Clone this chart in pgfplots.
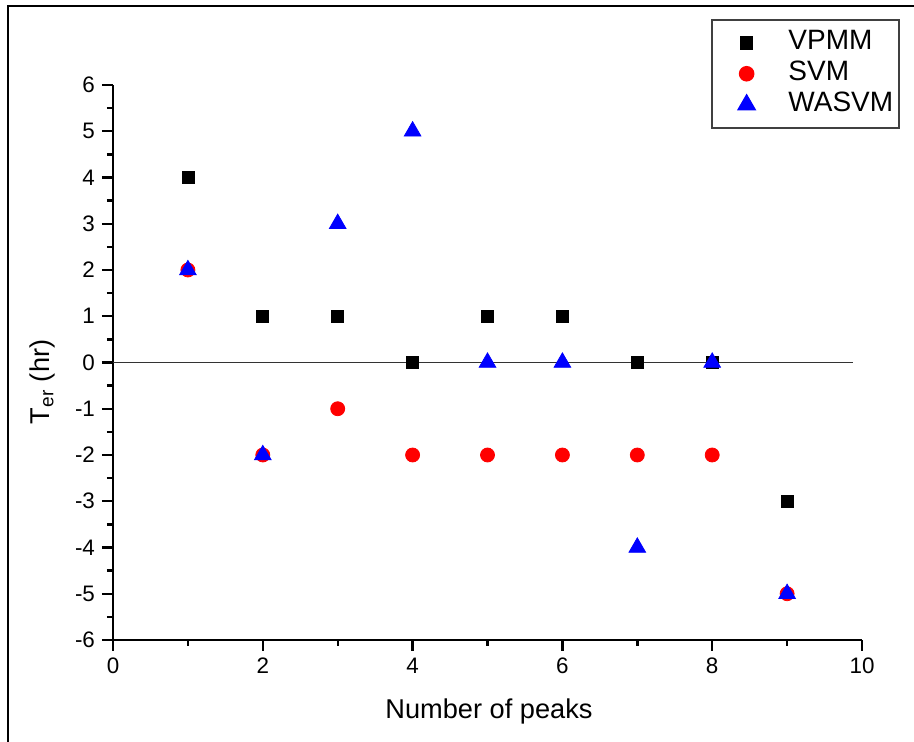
\documentclass[border=0pt]{standalone}
\usepackage{pgfplots}
\pgfplotsset{compat=1.18}
\usepackage{fontspec}
\setmainfont{Liberation Sans}

\pgfplotsset{
  % marker legend entry with fixed width, mark placed 15pt from the left
  markentry/.style={legend image code/.code={%
    \path (0pt,0pt) (32pt,0pt);
    \draw[mark repeat=2, mark phase=2, ##1] plot coordinates {(0pt,0pt) (15pt,0pt) (32pt,0pt)};}},
}

\begin{document}
\begin{tikzpicture}
% page size and outer frame
\useasboundingbox (-56.5pt,-51pt) rectangle (400.5pt,320pt);
\draw[line width=1.4pt] (-52.5pt,-52pt) -- (-52.5pt,317pt) -- (401pt,317pt);
\begin{axis}[
  at={(0pt,0pt)}, anchor=south west,
  scale only axis,
  width=374.5pt, height=277.5pt,
  xmin=0, xmax=10, ymin=-6, ymax=6,
  axis x line=bottom, axis y line=left,
  axis line style={-, line width=1.2pt},
  xtick={0,2,...,10}, ytick={-6,-5,...,6},
  minor x tick num=1, minor y tick num=1,
  tick align=outside,
  major tick length=5.5pt, minor tick length=3pt,
  every tick/.style={black, line width=1.2pt},
  /pgf/number format/assume math mode=true,
  ticklabel style={font=\fontsize{11.2}{13}\selectfont},
  xlabel={Number of peaks},
  ylabel={T\textsubscript{er} (hr)},
  every axis x label/.style={at={(axis description cs:0.502,-0.128)}, anchor=center,
    font=\fontsize{13.6}{16}\selectfont},
  every axis y label/.style={at={(axis description cs:-0.0948,0.465)}, anchor=center,
    rotate=90, font=\fontsize{13.6}{16}\selectfont},
  legend style={at={(axis description cs:1.0507,1.119)}, anchor=north east,
    draw=black!75, line width=0.8pt, font=\fontsize{14}{16}\selectfont,
    inner xsep=2pt, inner ysep=5pt, row sep=2.5pt, column sep=2.5pt,
    nodes={inner xsep=1pt, inner ysep=0pt, text height=10pt, text depth=3pt}},
  legend cell align=left,
]
% zero reference line
\addplot[black!80, line width=0.8pt, forget plot] coordinates {(0,0) (9.88,0)};

\addplot[only marks, markentry, mark=square*, mark size=3pt, black] coordinates {
  (1,4) (2,1) (3,1) (4,0) (5,1) (6,1) (7,0) (8,0) (9,-3)};
\addlegendentry{VPMM}

\addplot[only marks, markentry, mark=*, mark size=3.5pt, red, mark options={fill=red}] coordinates {
  (1,2) (2,-2) (3,-1) (4,-2) (5,-2) (6,-2) (7,-2) (8,-2) (9,-5)};
\addlegendentry{SVM}

\addplot[only marks, markentry, mark=triangle*, mark size=4.8pt, blue, mark options={fill=blue}] coordinates {
  (1,2) (2,-2) (3,3) (4,5) (5,0) (6,0) (7,-4) (8,0) (9,-5)};
\addlegendentry{WASVM}
\end{axis}
\end{tikzpicture}
\end{document}
